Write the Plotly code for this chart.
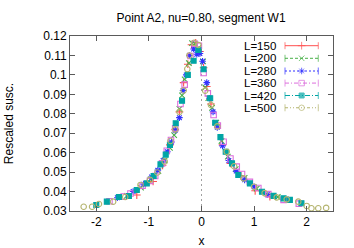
import plotly.graph_objects as go

labels = ["L=150", "L=200", "L=280", "L=360", "L=420", "L=500"]

x150 = [-1.23, -0.92, -0.74, -0.60, -0.50, -0.42, -0.34, -0.26, -0.19, -0.11, -0.03, 0.04, 0.10, 0.18, 0.28, 0.40, 0.55, 0.75, 1.02, 1.30]
y150 = [0.0382, 0.0452, 0.0535, 0.0640, 0.0720, 0.0810, 0.0960, 0.1055, 0.1155, 0.1165, 0.1120, 0.1037, 0.0940, 0.0850, 0.0745, 0.0640, 0.0545, 0.0480, 0.0404, 0.0374]

x200 = [-1.42, -1.15, -0.97, -0.82, -0.70, -0.60, -0.52, -0.42, -0.37, -0.32, -0.24, -0.18, -0.12, -0.05, 0.03, 0.07, 0.13, 0.20, 0.28, 0.38, 0.50, 0.65, 0.82, 1.05, 1.45]
y200 = [0.0378, 0.0420, 0.0462, 0.0505, 0.0560, 0.0625, 0.0690, 0.0825, 0.0895, 0.0977, 0.1060, 0.1163, 0.1160, 0.1140, 0.1070, 0.0936, 0.0880, 0.0830, 0.0755, 0.0660, 0.0580, 0.0515, 0.0470, 0.0415, 0.0372]

x280 = [-1.60, -1.30, -1.10, -0.95, -0.83, -0.73, -0.65, -0.57, -0.50, -0.42, -0.35, -0.29, -0.23, -0.15, -0.09, -0.03, 0.02, 0.10, 0.15, 0.22, 0.30, 0.40, 0.52, 0.66, 0.82, 1.00, 1.25, 1.65]
y280 = [0.0368, 0.0400, 0.0438, 0.0475, 0.0510, 0.0560, 0.0605, 0.0655, 0.0715, 0.0780, 0.0920, 0.1000, 0.1100, 0.1133, 0.1106, 0.1110, 0.1070, 0.0960, 0.0880, 0.0810, 0.0730, 0.0635, 0.0560, 0.0505, 0.0460, 0.0425, 0.0385, 0.0358]

x360 = [-1.75, -1.48, -1.35, -1.12, -0.98, -0.88, -0.75, -0.66, -0.58, -0.50, -0.40, -0.32, -0.21, -0.13, -0.05, 0.04, 0.12, 0.23, 0.31, 0.42, 0.55, 0.67, 0.77, 0.92, 1.08, 1.27, 1.56, 1.85]
y360 = [0.0350, 0.0374, 0.0390, 0.0430, 0.0455, 0.0480, 0.0545, 0.0610, 0.0665, 0.0725, 0.0850, 0.0950, 0.1097, 0.1160, 0.1150, 0.1010, 0.0905, 0.0794, 0.0739, 0.0656, 0.0570, 0.0528, 0.0490, 0.0450, 0.0418, 0.0387, 0.0357, 0.0338]

x420 = [-2.00, -1.80, -1.57, -1.38, -1.23, -1.04, -0.91, -0.78, -0.68, -0.60, -0.49, -0.37, -0.26, -0.15, -0.06, 0.04, 0.165, 0.26, 0.36, 0.46, 0.58, 0.70, 0.92, 1.15, 1.37, 1.56, 1.68, 1.90]
y420 = [0.0331, 0.0348, 0.0372, 0.0377, 0.0408, 0.0442, 0.0480, 0.0540, 0.0590, 0.0640, 0.0751, 0.0867, 0.1000, 0.1073, 0.1128, 0.1029, 0.0880, 0.0754, 0.0680, 0.0605, 0.0545, 0.0485, 0.0442, 0.0399, 0.0378, 0.0365, 0.0357, 0.0340]

x500 = [-2.24, -2.08, -1.95, -1.68, -1.45, -1.16, -0.98, -0.84, -0.70, -0.59, -0.50, -0.42, -0.34, -0.27, -0.23, -0.14, -0.06, 0.07, 0.18, 0.30, 0.48, 0.62, 0.80, 1.00, 1.20, 1.43, 1.62, 1.84, 2.00, 2.09, 2.22, 2.37]
y500 = [0.0322, 0.0322, 0.0336, 0.0348, 0.0372, 0.0434, 0.0460, 0.0498, 0.0555, 0.0660, 0.0720, 0.0810, 0.0920, 0.1030, 0.1100, 0.1165, 0.1154, 0.0919, 0.0845, 0.0735, 0.0605, 0.0530, 0.0468, 0.0425, 0.0392, 0.0370, 0.0360, 0.0348, 0.0326, 0.0314, 0.0314, 0.0316]

xs = [x150, x200, x280, x360, x420, x500]
ys = [y150, y200, y280, y360, y420, y500]

colors = ["rgb(255,80,80)", "rgb(70,175,70)", "rgb(50,50,255)", "rgb(220,110,220)", "rgb(0,165,165)", "rgb(180,180,110)"]
symbols = ["cross-thin-open", "x-thin-open", "asterisk-open", "square-open", "square", "circle-open"]
dashes = ["solid", "3px,2px", "2px,2px", "4px,2px,1px,2px", "5px,2px,1px,2px", "3px,2px,1px,2px,1px,2px"]
FONT = "Liberation Sans"

fig = go.Figure()

for i in range(6):
    sym = symbols[i]
    filled = sym == "square"
    fig.add_trace(go.Scatter(
        x=xs[i], y=ys[i], mode="markers", showlegend=False,
        marker=dict(symbol=sym, size=5.5 if not filled else 5, color=colors[i],
                    line=dict(color=colors[i], width=1.1)),
    ))

# manual legend on an overlay axis (fractions of plot area)
lx0, lx1 = 0.8175, 0.944
lxc = (lx0 + lx1) / 2
rows = [0.9446, 0.8726, 0.800, 0.731, 0.660, 0.590]
for i in range(6):
    r = rows[i]
    fig.add_trace(go.Scatter(
        x=[lx0, lxc, lx1], y=[r, r, r], xaxis="x2", yaxis="y2",
        mode="lines+markers", showlegend=False, hoverinfo="skip",
        line=dict(color=colors[i], width=1, dash=dashes[i]),
        marker=dict(symbol=["line-ns-open", symbols[i], "line-ns-open"],
                    size=[5, 5.5 if symbols[i] != "square" else 5, 5],
                    color=colors[i], line=dict(color=colors[i], width=1)),
    ))
    fig.add_annotation(x=0.787, y=r, xref="x2", yref="y2", text=labels[i],
                       showarrow=False, xanchor="right", yanchor="middle", borderpad=0,
                       font=dict(size=11.5, color="black", family=FONT))

fig.add_shape(type="line", x0=0, x1=0, y0=0.03, y1=0.12, xref="x", yref="y",
              line=dict(color="rgb(160,160,160)", width=1, dash="2px,3px"), layer="below")

axis_common = dict(showline=True, linecolor="rgb(90,90,90)", linewidth=1, mirror="allticks",
                   ticks="inside", ticklen=5, tickcolor="rgb(90,90,90)", showgrid=False,
                   zeroline=False, automargin=False,
                   tickfont=dict(size=12, color="black", family=FONT))

fig.update_layout(
    width=354, height=248,
    margin=dict(l=70, r=21, t=36, b=37),
    paper_bgcolor="white", plot_bgcolor="white",
    title=dict(text="Point A2, nu=0.80, segment W1", x=0.568, xanchor="center", y=0.93, yanchor="middle",
               font=dict(size=12, color="black", family=FONT)),
    xaxis=dict(range=[-2.5, 2.5], tickvals=[-2, -1, 0, 1, 2], ticktext=["-2", "-1", "0", "1", "2"],
               title=dict(text="x", standoff=9, font=dict(size=12, color="black", family=FONT)),
               **axis_common),
    yaxis=dict(range=[0.03, 0.12], tickvals=[0.03, 0.04, 0.05, 0.06, 0.07, 0.08, 0.09, 0.10, 0.11, 0.12],
               ticktext=["0.03", "0.04", "0.05", "0.06", "0.07", "0.08", "0.09", "0.1", "0.11", "0.12"],
               title=dict(text="Rescaled susc.", standoff=27, font=dict(size=12, color="black", family=FONT)),
               **axis_common),
    xaxis2=dict(range=[0, 1], overlaying="x", visible=False, fixedrange=True),
    yaxis2=dict(range=[0, 1], overlaying="y", visible=False, fixedrange=True),
    showlegend=False,
)

fig.write_html("out.html", config={"displayModeBar": False},
               post_script="document.body.style.margin='0px';document.body.style.overflow='hidden';")
